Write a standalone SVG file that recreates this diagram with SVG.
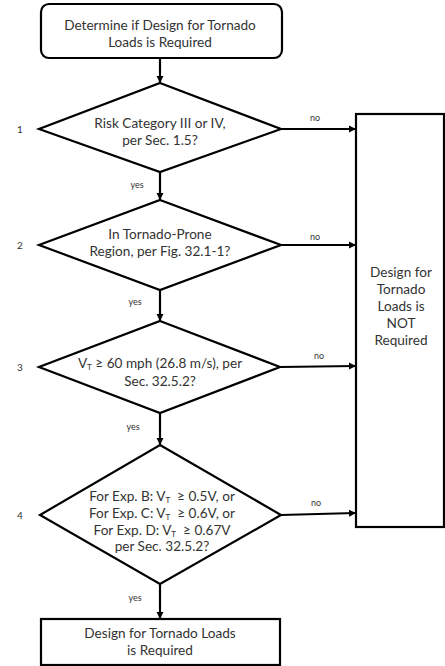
<svg xmlns="http://www.w3.org/2000/svg" width="445" height="666" viewBox="0 0 445 666">
<style>
  .shape { fill: #fff; stroke: #000; stroke-width: 2.2; }
  .t { font-family: Lato, "Open Sans", sans-serif; font-size: 13.6px; fill: #333; text-anchor: middle; }
  .lbl { font-family: Lato, "Open Sans", sans-serif; font-size: 9px; fill: #333; text-anchor: middle; }
  .num { font-family: Lato, "Open Sans", sans-serif; font-size: 10px; fill: #333; text-anchor: middle; }
  .sub { font-size: 8px; }
  .conn { stroke: #000; stroke-width: 2.2; fill: none; marker-end: url(#arr); }
</style>
<defs>
  <marker id="arr" markerWidth="8" markerHeight="8" refX="6" refY="4" orient="auto" markerUnits="userSpaceOnUse">
    <path d="M0,0.5 L7,4 L0,7.5 Z" fill="#000"/>
  </marker>
</defs>
<rect width="445" height="666" fill="#fff"/>

<g id="start">
  <rect class="shape" x="41" y="4" width="241" height="54" rx="8"/>
  <text class="t" x="160" y="30">Determine if Design for Tornado</text>
  <text class="t" x="160" y="47">Loads is Required</text>
</g>

<g id="d1">
  <polygon class="shape" points="160,83 281,129 160,172 39,129"/>
  <text class="t" x="160" y="128">Risk Category III or IV,</text>
  <text class="t" x="160" y="145">per Sec. 1.5?</text>
  <text class="num" x="20" y="133">1</text>
</g>

<g id="d2">
  <polygon class="shape" points="160,200 281,245 160,290 39,245"/>
  <text class="t" x="160" y="239">In Tornado-Prone</text>
  <text class="t" x="160" y="256">Region, per Fig. 32.1-1?</text>
  <text class="num" x="20" y="249">2</text>
</g>

<g id="d3">
  <polygon class="shape" points="160,321 280,367 160,413 39,367"/>
  <text class="t" x="160" y="368">V<tspan class="sub" dy="2">T</tspan><tspan dy="-2"> ≥ 60 mph (26.8 m/s), per</tspan></text>
  <text class="t" x="160" y="386">Sec. 32.5.2?</text>
  <text class="num" x="20" y="371">3</text>
</g>

<g id="d4">
  <polygon class="shape" points="160,445 281,515 160,584 40,515"/>
  <text class="t" x="162" y="501">For Exp. B: V<tspan class="sub" dy="2">T</tspan><tspan dy="-2">&#160; ≥ 0.5V, or</tspan></text>
  <text class="t" x="162" y="518">For Exp. C: V<tspan class="sub" dy="2">T</tspan><tspan dy="-2">&#160; ≥ 0.6V, or</tspan></text>
  <text class="t" x="162" y="535">For Exp. D: V<tspan class="sub" dy="2">T</tspan><tspan dy="-2">&#160; ≥ 0.67V</tspan></text>
  <text class="t" x="162" y="551">per Sec. 32.5.2?</text>
  <text class="num" x="20" y="519">4</text>
</g>

<g id="required">
  <rect class="shape" x="41" y="619" width="239" height="46"/>
  <text class="t" x="160" y="638">Design for Tornado Loads</text>
  <text class="t" x="160" y="655">is Required</text>
</g>

<g id="notrequired">
  <rect class="shape" x="356" y="114" width="88" height="413"/>
  <text class="t" x="401" y="277">Design for</text>
  <text class="t" x="401" y="294">Tornado</text>
  <text class="t" x="401" y="311">Loads is</text>
  <text class="t" x="401" y="328">NOT</text>
  <text class="t" x="401" y="345">Required</text>
</g>

<g id="connectors">
  <line class="conn" x1="160" y1="58" x2="160" y2="82"/>
  <line class="conn" x1="160" y1="172" x2="160" y2="199"/>
  <line class="conn" x1="160" y1="290" x2="160" y2="320"/>
  <line class="conn" x1="160" y1="413" x2="160" y2="444"/>
  <line class="conn" x1="160" y1="584" x2="160" y2="618"/>
  <line class="conn" x1="281" y1="129" x2="355" y2="129"/>
  <line class="conn" x1="281" y1="245" x2="355" y2="245"/>
  <line class="conn" x1="280" y1="367" x2="355" y2="366"/>
  <line class="conn" x1="281" y1="515" x2="355" y2="513"/>
  <text class="lbl" x="137" y="188">yes</text>
  <text class="lbl" x="135" y="305">yes</text>
  <text class="lbl" x="133" y="430">yes</text>
  <text class="lbl" x="135" y="601">yes</text>
  <text class="lbl" x="315" y="121">no</text>
  <text class="lbl" x="315" y="240">no</text>
  <text class="lbl" x="319" y="359">no</text>
  <text class="lbl" x="316" y="506">no</text>
</g>
</svg>
